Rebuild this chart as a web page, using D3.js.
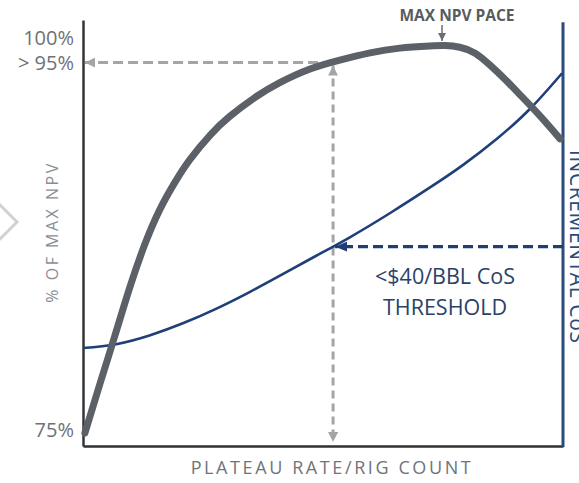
<!DOCTYPE html>
<html>
<head>
<meta charset="utf-8">
<script src="https://cdn.jsdelivr.net/npm/d3@7"></script>
<style>
  html, body { margin: 0; padding: 0; background: #ffffff; }
  svg { display: block; }
  text { font-family: "Open Sans", "Noto Sans", sans-serif; }
</style>
</head>
<body>
<div id="chart"></div>
<script>
// Plateau rate / rig count on a 0–100 relative scale
const npvX = [0.4, 3.5, 6.7, 9.8, 12.9, 16.0, 19.2, 22.3, 26.5, 30.6, 35.8, 41.0, 47.3, 53.5, 59.8, 66.0, 72.3, 75.4, 78.5, 81.7, 84.8, 87.9, 91.0, 95.2, 99.4];
// % of max NPV curve (relative vertical units, 0 = base, 100 = top)
const npvY = [3.05, 14.5, 26.1, 37.4, 47.4, 55.5, 62.0, 67.3, 73.0, 77.4, 81.8, 85.3, 88.5, 90.6, 92.3, 93.4, 93.9, 94.0, 93.6, 92.2, 89.4, 86.1, 82.5, 77.5, 72.1];

// Incremental cost of supply curve
const cosX = [0, 6.9, 14.0, 20.8, 27.7, 34.8, 41.7, 48.5, 55.6, 64.0, 72.3, 79.2, 86.3, 93.1, 99.8];
const cosY = [23.0, 23.9, 26.0, 28.8, 32.2, 36.2, 40.4, 44.6, 49.0, 54.7, 60.7, 66.0, 72.2, 79.1, 87.5];

// Y-axis tick positions and labels
const yTickValues = [3.8, 90.0, 95.8];
const yTickLabels = ["75%", "> 95%", "100%"];

// Key reference points
const paceX = 52.1;        // pace reaching > 95% of max NPV
const paceNpv = 90.0;      // NPV level at that pace
const paceCos = 46.8;      // cost of supply at that pace
const maxNpvX = 74.8;      // max NPV pace

const titleX = "PLATEAU RATE/RIG COUNT";
const titleY = "% OF MAX NPV";
const titleRight = "INCREMENTAL CoS";
const maxLabel = "MAX NPV PACE";
const thresholdLines = ["<$40/BBL CoS", "THRESHOLD"];

const W = 579, H = 483;
const margin = { top: 20, right: 16, bottom: 37, left: 83 };

const svg = d3.select("#chart").append("svg")
  .attr("width", W).attr("height", H);

const x = d3.scaleLinear().domain([0, 100]).range([margin.left, W - margin.right]);
const y = d3.scaleLinear().domain([0, 100]).range([H - margin.bottom, margin.top]);

// Arrow markers
const defs = svg.append("defs");
function arrow(id, color, len, wid) {
  defs.append("marker")
    .attr("id", id)
    .attr("viewBox", `0 0 ${len} ${wid}`)
    .attr("refX", len).attr("refY", wid / 2)
    .attr("markerUnits", "userSpaceOnUse")
    .attr("markerWidth", len).attr("markerHeight", wid)
    .attr("orient", "auto-start-reverse")
    .append("path")
    .attr("d", `M0,0 L${len},${wid / 2} L0,${wid} Z`)
    .attr("fill", color);
}
arrow("arrGray", "#a3a6a9", 10, 10);
arrow("arrBlue", "#1f3f73", 12, 10);
arrow("arrDark", "#6a6e73", 8, 8);

// Decorative chevron on the left edge
svg.append("path")
  .attr("d", "M-2,203 L17,222 L-2,241")
  .attr("fill", "none")
  .attr("stroke", "#cfd2d5")
  .attr("stroke-width", 3);

// Left axis with percentage ticks
const yAxis = d3.axisLeft(y)
  .tickValues(yTickValues)
  .tickFormat((d, i) => yTickLabels[i])
  .tickSize(0)
  .tickPadding(9);
const gy = svg.append("g")
  .attr("transform", `translate(${margin.left},0)`)
  .call(yAxis);
gy.select(".domain").attr("stroke", "#333638").attr("stroke-width", 2.5);
gy.selectAll(".tick text")
  .attr("font-size", 20)
  .attr("fill", "#6e7277")
  .attr("font-family", "'Open Sans', sans-serif");

// Bottom axis
const xAxis = d3.axisBottom(x).tickValues([]).tickSizeOuter(0);
const gx = svg.append("g")
  .attr("transform", `translate(0,${y(0)})`)
  .call(xAxis);
gx.select(".domain").attr("stroke", "#2f3133").attr("stroke-width", 2.5);

// Right axis (incremental CoS)
const yRight = d3.axisRight(y).tickValues([]).tickSizeOuter(0);
const gr = svg.append("g")
  .attr("transform", `translate(${x(100)},0)`)
  .call(yRight);
gr.select(".domain")
  .attr("stroke", "#2a4b7d").attr("stroke-width", 3)
  .attr("d", `M0,${y(99.5)}V${y(0) + 1}`);

// Axis titles
svg.append("text")
  .attr("x", (x(0) + x(100)) / 2 + 9)
  .attr("y", y(0) + 28)
  .attr("text-anchor", "middle")
  .attr("font-size", 18)
  .attr("letter-spacing", 2.6)
  .attr("fill", "#6f747a")
  .text(titleX);

svg.append("text")
  .attr("transform", `translate(58,${232}) rotate(-90)`)
  .attr("text-anchor", "middle")
  .attr("font-size", 16)
  .attr("letter-spacing", 2.5)
  .attr("fill", "#8a8e93")
  .text(titleY);

svg.append("text")
  .attr("transform", `translate(570,150) rotate(90)`)
  .attr("text-anchor", "start")
  .attr("font-size", 21)
  .attr("letter-spacing", 0.6)
  .attr("fill", "#2a4b7d")
  .text(titleRight);

// Guides: > 95% NPV level and its pace
svg.append("line")
  .attr("x1", x(paceX)).attr("y1", y(paceNpv))
  .attr("x2", x(0) + 2).attr("y2", y(paceNpv))
  .attr("stroke", "#a3a6a9").attr("stroke-width", 3)
  .attr("stroke-dasharray", "10,5")
  .attr("marker-end", "url(#arrGray)");

svg.append("line")
  .attr("x1", x(paceX)).attr("y1", y(paceNpv) + 3)
  .attr("x2", x(paceX)).attr("y2", y(0) - 4)
  .attr("stroke", "#a3a6a9").attr("stroke-width", 3)
  .attr("stroke-dasharray", "8,5")
  .attr("marker-start", "url(#arrGray)")
  .attr("marker-end", "url(#arrGray)");

// Curves (natural cubic spline through the read-off points)
const lineGen = d3.line()
  .x(d => x(d[0])).y(d => y(d[1]))
  .curve(d3.curveNatural);

svg.append("path")
  .datum(cosX.map((v, i) => [v, cosY[i]]))
  .attr("d", lineGen)
  .attr("fill", "none")
  .attr("stroke", "#1f3f78")
  .attr("stroke-width", 2.6);

svg.append("path")
  .datum(npvX.map((v, i) => [v, npvY[i]]))
  .attr("d", lineGen)
  .attr("fill", "none")
  .attr("stroke", "#5b6167")
  .attr("stroke-width", 7)
  .attr("stroke-linecap", "round")
  .attr("stroke-linejoin", "round");

// CoS threshold guide
svg.append("line")
  .attr("x1", x(100)).attr("y1", y(paceCos))
  .attr("x2", x(paceX) + 2).attr("y2", y(paceCos))
  .attr("stroke", "#1f3f73").attr("stroke-width", 3.2)
  .attr("stroke-dasharray", "10,5")
  .attr("marker-end", "url(#arrBlue)");

const thr = svg.append("text")
  .attr("text-anchor", "middle")
  .attr("font-size", 21.5)
  .attr("fill", "#2a4268");
thresholdLines.forEach((t, i) => {
  thr.append("tspan")
    .attr("x", 445)
    .attr("y", y(paceCos) + 37 + i * 31)
    .text(t);
});

// Max NPV pace annotation
svg.append("text")
  .attr("x", 457)
  .attr("y", 21)
  .attr("text-anchor", "middle")
  .attr("font-size", 15.5)
  .attr("font-weight", 700)
  .attr("fill", "#585c61")
  .text(maxLabel);

svg.append("line")
  .attr("x1", x(maxNpvX)).attr("y1", 25)
  .attr("x2", x(maxNpvX)).attr("y2", 41)
  .attr("stroke", "#6a6e73").attr("stroke-width", 1.5)
  .attr("marker-end", "url(#arrDark)");
</script>
</body>
</html>
